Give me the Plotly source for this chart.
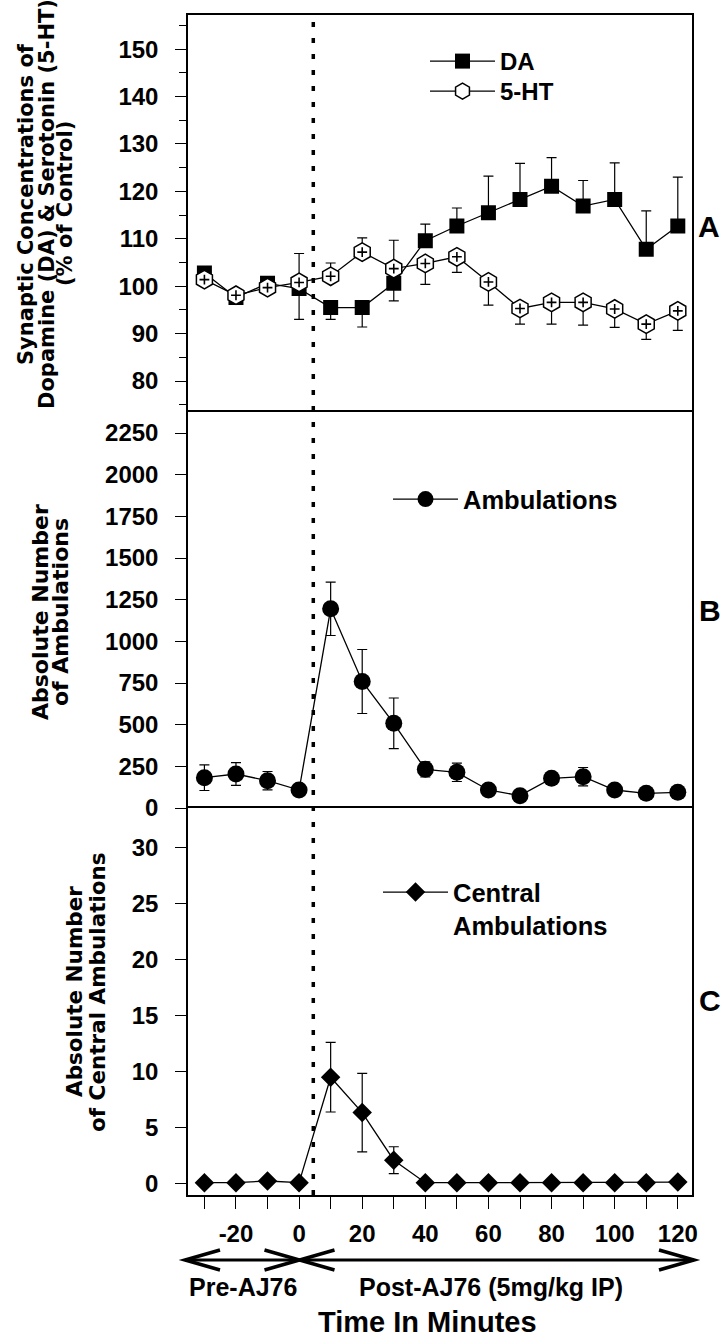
import plotly.graph_objects as go
from plotly.subplots import make_subplots

# ---------------- data ----------------
time_min = [-30, -20, -10, 0, 10, 20, 30, 40, 50, 60, 70, 80, 90, 100, 110, 120]

da_pct = [102.8, 97.6, 100.6, 99.5, 95.5, 95.5, 100.6, 109.6, 112.7, 115.5, 118.3, 121.1, 116.9, 118.3, 107.8, 112.7]
da_err_up = [1.3, 0, 0, 0, 0, 0, 0, 3.5, 3.8, 7.7, 7.6, 6.0, 5.4, 7.7, 8.1, 10.3]
da_err_down = [0, 0, 0, 6.5, 2.5, 4.1, 3.7, 0, 0, 0, 0, 0, 0, 0, 0, 0]

ht_pct = [101.4, 98.1, 99.7, 100.8, 102.1, 107.2, 103.7, 104.8, 106.2, 100.9, 95.3, 96.6, 96.6, 95.2, 92.0, 94.8]
ht_err_up = [0, 0, 0, 6.1, 2.8, 3.0, 6.0, 0, 0, 0, 0, 0, 0, 0, 0, 0]
ht_err_down = [0, 0, 0, 0, 0, 0, 0, 4.4, 3.3, 4.9, 3.3, 4.6, 4.8, 3.9, 3.2, 4.1]

amb = [182, 204, 164, 108, 1195, 759, 508, 232, 214, 108, 74, 178, 188, 108, 88, 94]
amb_err = [77, 68, 55, 0, 160, 192, 152, 45, 55, 0, 0, 20, 55, 0, 0, 0]

central = [0.1, 0.1, 0.25, 0.1, 9.5, 6.35, 2.1, 0.1, 0.1, 0.1, 0.1, 0.1, 0.1, 0.1, 0.1, 0.15]
central_err = [0, 0, 0, 0, 3.1, 3.5, 1.2, 0, 0, 0, 0, 0, 0, 0, 0, 0]

injection_time = 4.5
x_tickvals = list(range(-30, 121, 10))
x_ticktext = [str(v) if (v % 20 == 0 and v >= -20) else "" for v in x_tickvals]

# ---------------- layout helpers ----------------
W, H = 725, 1341
PL, PR, PT, PB = 188, 692, 15, 1195


def px(x):
    return (x - PL) / (PR - PL)


def py(y):
    return (PB - y) / (PB - PT)


BOLD = "Liberation Sans, Arial, sans-serif"
TITLEF = "DejaVu Sans, Liberation Sans, sans-serif"

fig = make_subplots(rows=3, cols=1, shared_xaxes=True, vertical_spacing=0)

err_style = dict(color="black", thickness=1.2, width=5)

# Panel A
fig.add_trace(go.Scatter(
    x=time_min, y=da_pct, name="DA", mode="lines+markers",
    line=dict(color="black", width=1.3),
    marker=dict(symbol="square", size=15, color="black"),
    error_y=dict(type="data", symmetric=False, array=da_err_up, arrayminus=da_err_down, **err_style),
    legend="legend"), row=1, col=1)
fig.add_trace(go.Scatter(
    x=time_min, y=ht_pct, name="5-HT", mode="lines+markers",
    line=dict(color="black", width=1.3),
    marker=dict(symbol="hexagon", size=18.5, color="white", line=dict(color="black", width=1.5)),
    error_y=dict(type="data", symmetric=False, array=ht_err_up, arrayminus=ht_err_down, **err_style),
    legend="legend4"), row=1, col=1)
fig.add_trace(go.Scatter(
    x=time_min, y=ht_pct, mode="markers", showlegend=False, hoverinfo="skip",
    marker=dict(symbol="cross-thin", size=7, color="black", line=dict(color="black", width=1.6))),
    row=1, col=1)

# Panel B
fig.add_trace(go.Scatter(
    x=time_min, y=amb, name="Ambulations", mode="lines+markers",
    line=dict(color="black", width=1.3),
    marker=dict(symbol="circle", size=17, color="black"),
    error_y=dict(type="data", array=amb_err, **err_style),
    legend="legend2"), row=2, col=1)

# Panel C
fig.add_trace(go.Scatter(
    x=time_min, y=central, name="Central<br>Ambulations", mode="lines+markers",
    line=dict(color="black", width=1.3),
    marker=dict(symbol="diamond", size=15, color="black"),
    error_y=dict(type="data", array=central_err, **err_style),
    legend="legend3"), row=3, col=1)

frame = dict(linecolor="black", linewidth=1.5, showgrid=False, zeroline=False)
tickfont = dict(family=BOLD, size=24, color="black", weight="bold")

for r in (1, 2, 3):
    fig.update_xaxes(range=[-35.2, 124.5], **frame, row=r, col=1)
fig.update_xaxes(showline=True, mirror=True, showticklabels=False, ticks="", row=1, col=1)
fig.update_xaxes(showline=False, showticklabels=False, ticks="", row=2, col=1)
fig.update_xaxes(showline=True, mirror=True, tickmode="array", tickvals=x_tickvals, ticktext=x_ticktext,
                 ticks="outside", ticklen=12, tickwidth=1.2, tickcolor="black",
                 tickfont=tickfont, ticklabelstandoff=4, row=3, col=1)

ycommon = dict(showline=True, mirror=True, ticks="outside", ticklen=11, tickwidth=1.2,
               tickcolor="black", tickfont=tickfont, ticklabelstandoff=12, tick0=0)
fig.update_yaxes(range=[74.0, 157.2], dtick=10,
                 minor=dict(dtick=5, ticks="outside", ticklen=7, tickwidth=1, tickcolor="black"),
                 domain=[py(409.5), 1], **ycommon, **frame, row=1, col=1)
fig.update_yaxes(range=[0, 2391], dtick=250,
                 domain=[py(808), py(409.5)], **ycommon, **frame, row=2, col=1)
fig.update_yaxes(range=[-1.0, 33.5], dtick=5,
                 domain=[0, py(808)], **ycommon, **frame, row=3, col=1)

# injection dashed line across all panels
fig.add_shape(type="line", xref="x3", yref="paper", x0=injection_time, x1=injection_time,
              y0=0, y1=1, line=dict(color="black", width=3.5, dash="5px,11px"))

# arrows under the axis
ay = py(1260)
arrow_line = dict(color="black", width=3)
for x0, x1 in ((185, 299.5), (299.5, 694)):
    fig.add_shape(type="line", xref="paper", yref="paper", x0=px(x0), x1=px(x1), y0=ay, y1=ay,
                  line=arrow_line)
    for tip, direction in ((x0, 1), (x1, -1)):
        back = tip + direction * 35
        path = "M{},{} L{},{} L{},{}".format(px(back), py(1250), px(tip), ay, px(back), py(1270))
        fig.add_shape(type="path", xref="paper", yref="paper", path=path,
                      line=dict(color="black", width=3.5))

annos = []


def text(t, x, y, size, family=BOLD, angle=0):
    annos.append(dict(text=t, x=px(x), y=py(y), xref="paper", yref="paper",
                      showarrow=False, xanchor="center", yanchor="middle", textangle=angle,
                      font=dict(family=family, size=size, color="black", weight="bold")))


# y-axis titles
for t, x in (("Synaptic Concentrations of", 26), ("Dopamine (DA) & Serotonin (5-HT)", 47),
             ("(% of Control)", 65)):
    text(t, x, 204, 21, TITLEF, -90)
for t, x in (("Absolute Number", 40), ("of Ambulations", 60)):
    text(t, x, 612, 22, TITLEF, -90)
for t, x in (("Absolute Number", 74), ("of Central Ambulations", 97)):
    text(t, x, 992, 21.5, TITLEF, -90)

# panel letters
text("A", 709, 226, 30)
text("B", 710, 610, 30)
text("C", 710, 1000, 30)

# bottom labels
text("Pre-AJ76", 242.5, 1287, 25)
text("Post-AJ76 (5mg/kg IP)", 491, 1287, 25)
text("Time In Minutes", 427, 1322, 29)

legfont = dict(family=BOLD, size=24, color="black", weight="bold")
legfont2 = dict(family=BOLD, size=25.5, color="black", weight="bold")
leg_common = dict(xanchor="left", yanchor="top", bgcolor="rgba(0,0,0,0)", itemwidth=65)
fig.update_layout(
    width=W, height=H, autosize=False,
    margin=dict(l=PL, r=W - PR, t=PT, b=H - PB, pad=0),
    paper_bgcolor="white", plot_bgcolor="white",
    annotations=annos,
    legend=dict(x=px(425), y=py(39), font=legfont, **leg_common),
    legend4=dict(x=px(425), y=py(69), font=legfont, **leg_common),
    legend2=dict(x=px(388), y=py(476), font=legfont2, **leg_common),
    legend3=dict(x=px(378), y=py(869), valign="top", font=legfont2, **leg_common),
)

fig.write_html("out.html", config={"displayModeBar": False},
               post_script="document.body.style.margin='0';")
